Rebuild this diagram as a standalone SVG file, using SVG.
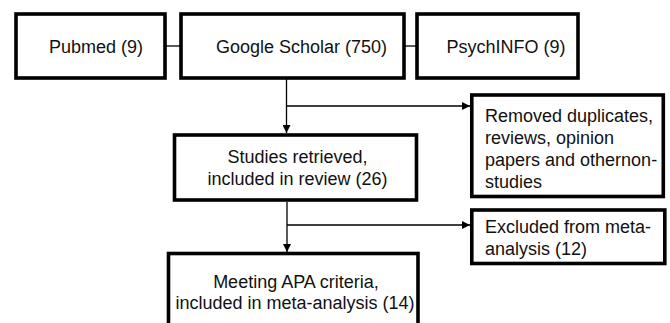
<svg xmlns="http://www.w3.org/2000/svg" width="670" height="323" viewBox="0 0 670 323">
<defs>
<style>
.box{fill:#fff;stroke:#000;stroke-width:3.6}
.t{font-family:"Liberation Sans",Arial,sans-serif;font-size:18px;fill:#111}
.c{text-anchor:middle}
.ln{stroke:#000;stroke-width:1.3;fill:none}
</style>
<marker id="ah" markerWidth="8" markerHeight="8" refX="8" refY="4" orient="auto" markerUnits="userSpaceOnUse">
<path d="M0,0 L8,4 L0,8 Z" fill="#000"/>
</marker>
</defs>
<rect width="670" height="323" fill="#fff"/>
<g id="connectors">
<line class="ln" x1="166" y1="46" x2="181" y2="46"/>
<line class="ln" x1="404" y1="46" x2="417" y2="46"/>
<line class="ln" x1="286.5" y1="79" x2="286.5" y2="133" marker-end="url(#ah)"/>
<line class="ln" x1="286.5" y1="106" x2="470" y2="106" marker-end="url(#ah)"/>
<line class="ln" x1="287" y1="202" x2="287" y2="252" marker-end="url(#ah)"/>
<line class="ln" x1="287" y1="225" x2="470" y2="225" marker-end="url(#ah)"/>
</g>
<g id="pubmed">
<rect class="box" x="16" y="14" width="149" height="64"/>
<text class="t c" x="96" y="53">Pubmed (9)</text>
</g>
<g id="google">
<rect class="box" x="181" y="14" width="223" height="64"/>
<text class="t c" x="301.5" y="53">Google Scholar (750)</text>
</g>
<g id="psychinfo">
<rect class="box" x="417" y="14" width="161" height="64"/>
<text class="t c" x="506" y="53">PsychINFO (9)</text>
</g>
<g id="removed">
<rect class="box" x="471.8" y="95" width="191.5" height="101.5"/>
<text class="t" x="485" y="122">Removed duplicates,</text>
<text class="t" x="485" y="144">reviews, opinion</text>
<text class="t" x="485" y="166">papers and othernon-</text>
<text class="t" x="485" y="188">studies</text>
</g>
<g id="studies">
<rect class="box" x="174.5" y="135" width="242" height="65"/>
<text class="t c" x="297.5" y="163">Studies retrieved,</text>
<text class="t c" x="297.5" y="185">included in review (26)</text>
</g>
<g id="excluded">
<rect class="box" x="471.8" y="210" width="193" height="53.5"/>
<text class="t" x="485" y="233">Excluded from meta-</text>
<text class="t" x="485" y="255">analysis (12)</text>
</g>
<g id="meeting">
<rect class="box" x="168.5" y="253.5" width="249.5" height="80"/>
<text class="t c" x="296" y="287.5">Meeting APA criteria,</text>
<text class="t c" x="295" y="309">included in meta-analysis (14)</text>
</g>
</svg>
